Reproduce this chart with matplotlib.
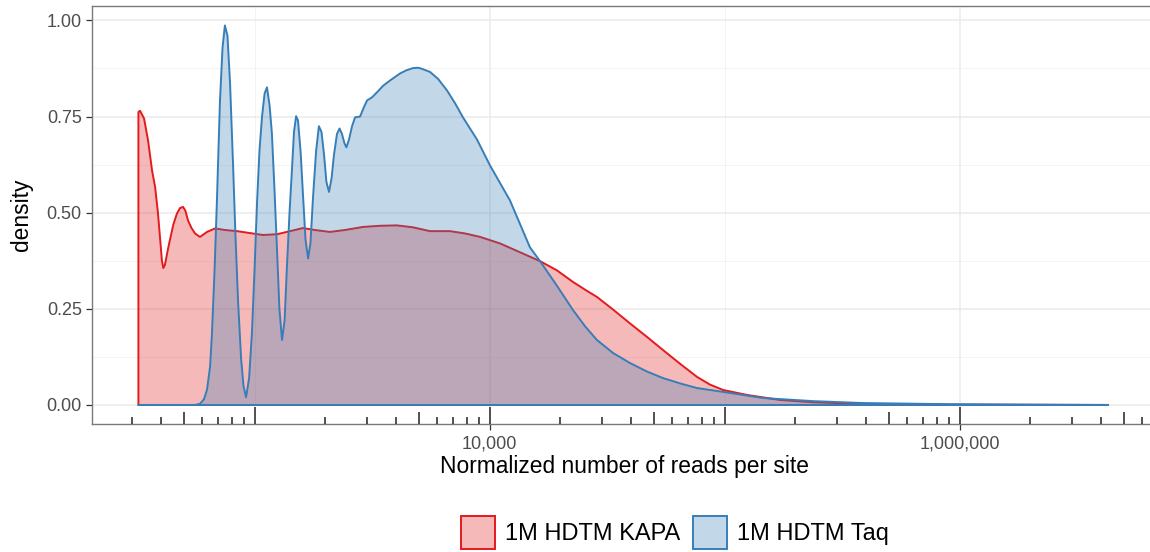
import numpy as np
import matplotlib
matplotlib.use("Agg")
import matplotlib.pyplot as plt
from matplotlib.patches import Rectangle
from matplotlib.ticker import FixedLocator, NullFormatter
import matplotlib.transforms as mtransforms

plt.rcParams['font.family'] = ['Liberation Sans', 'DejaVu Sans']

# ---------------- data (log10 of normalized reads per site, density) -------------
series_names = ["1M HDTM KAPA", "1M HDTM Taq"]

kapa_log10 = [2.506, 2.513, 2.530, 2.547, 2.564, 2.577, 2.589, 2.600, 2.606, 2.612,
              2.619, 2.630, 2.640, 2.655, 2.670, 2.683, 2.696, 2.706, 2.717, 2.732,
              2.747, 2.768, 2.798, 2.832, 2.874, 2.926, 2.981, 3.036, 3.096, 3.151,
              3.206, 3.257, 3.321, 3.385, 3.462, 3.534, 3.606, 3.674, 3.747, 3.832,
              3.896, 3.960, 4.045, 4.130, 4.215, 4.287, 4.355, 4.406, 4.457, 4.526,
              4.598, 4.670, 4.738, 4.811, 4.883, 4.938, 4.994, 5.096, 5.236, 5.377,
              5.577, 5.960, 6.300, 6.632]
kapa_density = [0.762, 0.765, 0.745, 0.688, 0.610, 0.567, 0.500, 0.420, 0.375, 0.356,
                0.365, 0.400, 0.429, 0.470, 0.498, 0.512, 0.515, 0.505, 0.480, 0.460,
                0.446, 0.437, 0.450, 0.459, 0.455, 0.452, 0.447, 0.442, 0.444, 0.452,
                0.460, 0.455, 0.450, 0.455, 0.463, 0.466, 0.467, 0.462, 0.452, 0.452,
                0.446, 0.437, 0.420, 0.397, 0.374, 0.350, 0.320, 0.300, 0.281, 0.248,
                0.212, 0.177, 0.143, 0.107, 0.073, 0.053, 0.039, 0.026, 0.013, 0.007,
                0.003, 0.001, 0.0005, 0.0]

taq_log10 = [2.506, 2.747, 2.768, 2.785, 2.798, 2.811, 2.819, 2.830, 2.840, 2.853,
             2.864, 2.874, 2.885, 2.896, 2.909, 2.919, 2.930, 2.943, 2.953, 2.964,
             2.977, 2.989, 3.000, 3.011, 3.021, 3.032, 3.043, 3.053, 3.064, 3.074,
             3.085, 3.096, 3.106, 3.117, 3.128, 3.138, 3.149, 3.160, 3.168, 3.177,
             3.185, 3.196, 3.206, 3.217, 3.228, 3.238, 3.249, 3.262, 3.274, 3.285,
             3.296, 3.306, 3.317, 3.328, 3.338, 3.351, 3.362, 3.372, 3.383, 3.391,
             3.402, 3.415, 3.428, 3.449, 3.466, 3.479, 3.500, 3.521, 3.547, 3.577,
             3.619, 3.645, 3.674, 3.696, 3.713, 3.747, 3.781, 3.819, 3.853, 3.887,
             3.947, 4.002, 4.087, 4.172, 4.215, 4.287, 4.355, 4.406, 4.457, 4.526,
             4.598, 4.670, 4.738, 4.811, 4.883, 4.994, 5.164, 5.377, 5.589, 5.960,
             6.300, 6.632]
taq_density = [0.0, 0.0, 0.003, 0.015, 0.040, 0.100, 0.187, 0.350, 0.530, 0.790,
               0.930, 0.987, 0.960, 0.836, 0.620, 0.440, 0.270, 0.120, 0.050, 0.020,
               0.070, 0.187, 0.350, 0.530, 0.660, 0.750, 0.810, 0.826, 0.780, 0.706,
               0.560, 0.400, 0.250, 0.169, 0.220, 0.360, 0.500, 0.620, 0.710, 0.751,
               0.740, 0.660, 0.550, 0.430, 0.381, 0.420, 0.540, 0.660, 0.725, 0.710,
               0.650, 0.580, 0.554, 0.590, 0.650, 0.705, 0.719, 0.705, 0.680, 0.670,
               0.690, 0.725, 0.748, 0.750, 0.775, 0.792, 0.800, 0.813, 0.830, 0.844,
               0.862, 0.870, 0.876, 0.877, 0.874, 0.866, 0.848, 0.818, 0.785, 0.748,
               0.690, 0.623, 0.532, 0.410, 0.374, 0.310, 0.247, 0.205, 0.169, 0.135,
               0.109, 0.087, 0.070, 0.056, 0.044, 0.034, 0.018, 0.010, 0.005, 0.002,
               0.0008, 0.0]

x_tick_values = [1e4, 1e6]
x_tick_labels = ["10,000", "1,000,000"]
y_tick_values = [0.0, 0.25, 0.5, 0.75, 1.0]
y_tick_labels = ["0.00", "0.25", "0.50", "0.75", "1.00"]

line_colors = ["#E41A1C", "#377EB8"]
fill_alpha = 0.3

# ---------------- figure ----------------
W, H = 1150, 552
fig = plt.figure(figsize=(W / 100, H / 100), dpi=100)
fig.patch.set_facecolor("white")

pl, pr, pt, pb = 92, 1156, 6, 423.5
ax = fig.add_axes([pl / W, (H - pb) / H, (pr - pl) / W, (pb - pt) / H])
ax.set_xscale("log")
ax.set_xlim(10 ** 2.3085, 10 ** 6.836)
ax.set_ylim(-0.0482, 1.0375)

# grid
ax.set_axisbelow(True)
ax.xaxis.set_major_locator(FixedLocator(x_tick_values))
ax.xaxis.set_minor_locator(FixedLocator([1e3, 1e5]))
ax.xaxis.set_minor_formatter(NullFormatter())
ax.set_xticklabels(x_tick_labels)
ax.yaxis.set_major_locator(FixedLocator(y_tick_values))
ax.yaxis.set_minor_locator(FixedLocator([0.125, 0.375, 0.625, 0.875]))
ax.set_yticklabels(y_tick_labels)
ax.grid(True, which="major", color="#EBEBEB", linewidth=1.1)
ax.grid(True, which="minor", color="#F3F3F3", linewidth=0.7)
ax.tick_params(which="minor", length=0)
ax.tick_params(which="major", direction="out", length=4.3, width=0.9,
               color="#333333", labelsize=13, labelcolor="#4D4D4D")
ax.tick_params(axis="y", pad=3)
ax.tick_params(axis="x", pad=4)

for s in ["left", "top", "bottom"]:
    ax.spines[s].set_color("#7a7a7a")
    ax.spines[s].set_linewidth(1.0)
ax.spines["right"].set_visible(False)

# densities
for logs, dens, col, z in [(kapa_log10, kapa_density, line_colors[0], 3),
                           (taq_log10, taq_density, line_colors[1], 4)]:
    xs = 10 ** np.array(logs)
    ys = np.array(dens)
    px = np.concatenate([[xs[0]], xs, [xs[-1]]])
    py = np.concatenate([[0.0], ys, [0.0]])
    ax.fill(px, py, facecolor=col, alpha=fill_alpha, edgecolor="none", zorder=z)
    ax.fill(px, py, facecolor="none", edgecolor=col, linewidth=1.4, zorder=z + 0.5,
            joinstyle="round")

# annotation log ticks along the bottom (inside panel)
trans = mtransforms.blended_transform_factory(ax.transData, ax.transAxes)
panel_h = pb - pt
xmin, xmax = ax.get_xlim()
for n in range(1, 8):
    for k in range(1, 10):
        v = k * 10 ** n
        if v < xmin or v > xmax:
            continue
        if k == 1:
            L = 17
        elif k == 5:
            L = 11.5
        else:
            L = 6.5
        ax.plot([v, v], [0, L / panel_h], transform=trans, color="#333333",
                linewidth=1.2, solid_capstyle="butt", zorder=6, clip_on=False)

# axis titles
fig.text(624 / W, 1 - 466 / H, "Normalized number of reads per site",
         ha="center", va="center", fontsize=16.4, color="black")
fig.text(22 / W, 1 - 215 / H, "density", ha="center", va="center",
         rotation=90, fontsize=16.4, color="black")

# legend (bottom)
key_specs = [(461, 505), (693, 737)]
for (kx, tx), name, col in zip(key_specs, series_names, line_colors):
    fig.add_artist(Rectangle((kx / W, 1 - 549 / H), 34 / W, 33 / H,
                             transform=fig.transFigure, facecolor=col,
                             alpha=fill_alpha, edgecolor="none"))
    fig.add_artist(Rectangle((kx / W, 1 - 549 / H), 34 / W, 33 / H,
                             transform=fig.transFigure, facecolor="none",
                             edgecolor=col, linewidth=1.4))
    fig.text(tx / W, 1 - 534 / H, name, ha="left", va="center",
             fontsize=17, color="black")

fig.savefig("out.png", dpi=100, facecolor="white")
